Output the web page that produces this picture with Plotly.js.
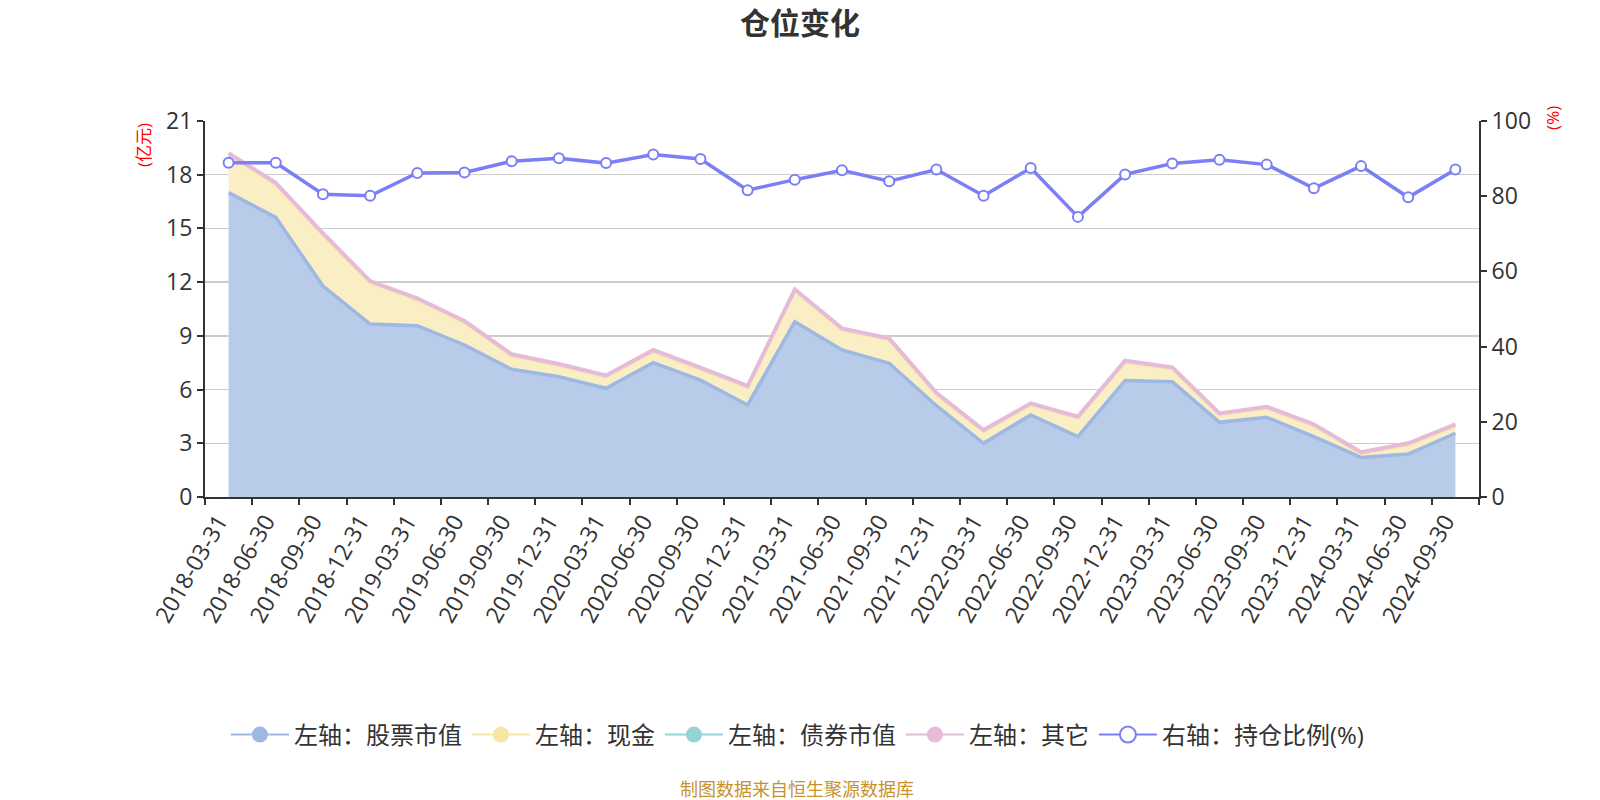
<!DOCTYPE html>
<html>
<head>
<meta charset="utf-8">
<script src="https://cdn.plot.ly/plotly-3.0.1.min.js"></script>
<style>
  html, body { margin: 0; padding: 0; background: #ffffff; }
  #chart { width: 1600px; height: 800px; }
</style>
</head>
<body>
<div id="chart"></div>
<script>
// -- Data (亿元 on the left axis, % on the right axis) ------------------------
var dates = [
  '2018-03-31', '2018-06-30', '2018-09-30', '2018-12-31',
  '2019-03-31', '2019-06-30', '2019-09-30', '2019-12-31',
  '2020-03-31', '2020-06-30', '2020-09-30', '2020-12-31',
  '2021-03-31', '2021-06-30', '2021-09-30', '2021-12-31',
  '2022-03-31', '2022-06-30', '2022-09-30', '2022-12-31',
  '2023-03-31', '2023-06-30', '2023-09-30', '2023-12-31',
  '2024-03-31', '2024-06-30', '2024-09-30'
];

var stockValue = [
  17.00, 15.62, 11.78, 9.66, 9.57, 8.49, 7.13, 6.72, 6.07,
  7.50, 6.53, 5.14, 9.79, 8.21, 7.47, 5.10, 3.00, 4.58,
  3.37, 6.50, 6.44, 4.17, 4.45, 3.37, 2.21, 2.40, 3.56
];

var cash = [
  2.10, 1.83, 2.85, 2.30, 1.43, 1.24, 0.74, 0.61, 0.62,
  0.61, 0.59, 0.96, 1.71, 1.11, 1.29, 0.62, 0.64, 0.55,
  1.02, 1.01, 0.70, 0.40, 0.49, 0.59, 0.19, 0.50, 0.40
];

var bondValue = [
  0, 0, 0, 0, 0, 0, 0, 0, 0,
  0, 0, 0, 0, 0, 0, 0, 0, 0,
  0, 0, 0, 0, 0, 0, 0, 0, 0
];

var other = [
  0.10, 0.10, 0.10, 0.10, 0.10, 0.10, 0.10, 0.10, 0.10,
  0.10, 0.10, 0.10, 0.10, 0.10, 0.10, 0.10, 0.10, 0.10,
  0.10, 0.10, 0.10, 0.10, 0.10, 0.10, 0.10, 0.10, 0.10
];

var positionRatio = [
  88.9, 88.9, 80.5, 80.1, 86.2, 86.3, 89.3, 90.1, 88.8,
  91.1, 89.9, 81.6, 84.4, 86.9, 84.0, 87.1, 80.1, 87.5,
  74.5, 85.8, 88.7, 89.7, 88.4, 82.1, 88.0, 79.7, 87.1
];

var seriesNames = ['左轴：股票市值', '左轴：现金', '左轴：债券市值', '左轴：其它', '右轴：持仓比例(%)'];

// -- Theme ------------------------------------------------------------------
var FONT = '"Open Sans", "Noto Sans CJK SC", sans-serif';
var TEXT_COLOR = '#333333';
var GRID_COLOR = '#cccccc';
var AXIS_COLOR = '#333333';
var TICK_SIZE = 23;

var STOCK_LINE = '#9db8e2', STOCK_FILL = '#b8cce9';
var CASH_LINE  = '#f6e8aa', CASH_FILL  = '#faefc4';
var BOND_LINE  = '#96d3d5', BOND_FILL  = '#c4e6e8';
var OTHER_LINE = '#e6bad9', OTHER_FILL = '#f0d6e8';
var RATIO_LINE = '#7b7ff5';

// stacked area series on the left axis; legend handled by dummy traces below
function areaTrace(y, lineColor, fillColor, width) {
  return {
    type: 'scatter',
    mode: 'lines',
    x: dates,
    y: y,
    stackgroup: 'left',
    line: { color: lineColor, width: width },
    fillcolor: fillColor,
    showlegend: false,
    hoverinfo: 'skip'
  };
}

// legend-only entries so the key looks like "line with big dot"
function legendTrace(name, color, hollow) {
  return {
    type: 'scatter',
    mode: 'lines+markers',
    x: [dates[0]],
    y: [null],
    name: name,
    line: { color: color, width: 2 },
    marker: {
      symbol: 'circle',
      size: 18,
      color: hollow ? '#ffffff' : color,
      line: { color: color, width: hollow ? 2 : 0 }
    },
    showlegend: true
  };
}

var traces = [
  areaTrace(stockValue, STOCK_LINE, STOCK_FILL, 3.5),
  areaTrace(cash, CASH_LINE, CASH_FILL, 3),
  // bond holdings are nil: no visible edge in the original
  areaTrace(bondValue, BOND_LINE, BOND_FILL, 0),
  areaTrace(other, OTHER_LINE, OTHER_FILL, 4),
  {
    type: 'scatter',
    mode: 'lines+markers',
    x: dates,
    y: positionRatio,
    yaxis: 'y2',
    line: { color: RATIO_LINE, width: 3.5 },
    marker: { symbol: 'circle', size: 10, color: '#ffffff', line: { color: RATIO_LINE, width: 2 } },
    showlegend: false,
    hoverinfo: 'skip'
  },
  legendTrace(seriesNames[0], STOCK_LINE, false),
  legendTrace(seriesNames[1], '#f7e6a2', false),
  legendTrace(seriesNames[2], BOND_LINE, false),
  legendTrace(seriesNames[3], OTHER_LINE, false),
  legendTrace(seriesNames[4], RATIO_LINE, true)
];

var layout = {
  width: 1600,
  height: 800,
  paper_bgcolor: '#ffffff',
  plot_bgcolor: '#ffffff',
  margin: { l: 205, r: 121, t: 121, b: 303 },
  font: { family: FONT, color: TEXT_COLOR, size: TICK_SIZE },
  title: {
    text: '<b>仓位变化</b>',
    font: { family: FONT, size: 30, color: TEXT_COLOR },
    x: 0.5, xanchor: 'center',
    y: 0.971, yanchor: 'middle', yref: 'container'
  },
  xaxis: {
    type: 'category',
    range: [-0.5, dates.length - 0.5],
    autorange: false,
    tickson: 'boundaries',
    ticks: 'outside',
    ticklen: 6,
    tickwidth: 2,
    tickcolor: AXIS_COLOR,
    tickangle: -60,
    ticklabelshift: -10,
    showline: true,
    linecolor: AXIS_COLOR,
    linewidth: 2,
    showgrid: false,
    zeroline: false,
    tickfont: { family: FONT, size: TICK_SIZE, color: TEXT_COLOR }
  },
  yaxis: {
    range: [0, 21],
    dtick: 3,
    tick0: 0,
    ticks: 'outside',
    ticklen: 6,
    tickwidth: 2,
    tickcolor: AXIS_COLOR,
    showline: true,
    linecolor: AXIS_COLOR,
    linewidth: 2,
    gridcolor: GRID_COLOR,
    gridwidth: 1.5,
    zeroline: false,
    tickfont: { family: FONT, size: TICK_SIZE, color: TEXT_COLOR }
  },
  yaxis2: {
    overlaying: 'y',
    side: 'right',
    range: [0, 100],
    dtick: 20,
    tick0: 0,
    ticks: 'outside',
    ticklen: 6,
    tickwidth: 2,
    tickcolor: AXIS_COLOR,
    showline: true,
    linecolor: AXIS_COLOR,
    linewidth: 2,
    showgrid: false,
    zeroline: false,
    tickfont: { family: FONT, size: TICK_SIZE, color: TEXT_COLOR }
  },
  showlegend: true,
  legend: {
    orientation: 'h',
    traceorder: 'normal',
    x: 0.465, xanchor: 'center',
    y: -0.633, yanchor: 'middle',
    font: { family: FONT, size: 24, color: TEXT_COLOR },
    itemsizing: 'trace',
    itemwidth: 58
  },
  annotations: [
    {
      text: '(亿元)',
      xref: 'paper', yref: 'paper',
      x: -0.0487, y: 0.936,
      xanchor: 'center', yanchor: 'middle',
      textangle: -90,
      showarrow: false,
      font: { family: FONT, size: 17, color: '#ff0000' }
    },
    {
      text: '(%)',
      xref: 'paper', yref: 'paper',
      x: 1.058, y: 1.008,
      xanchor: 'center', yanchor: 'middle',
      textangle: -90,
      showarrow: false,
      font: { family: FONT, size: 17, color: '#ff0000' }
    },
    {
      text: '制图数据来自恒生聚源数据库',
      xref: 'paper', yref: 'paper',
      x: 0.465, y: -0.777,
      xanchor: 'center', yanchor: 'middle',
      showarrow: false,
      font: { family: FONT, size: 18, color: '#c8922a' }
    }
  ]
};

Plotly.newPlot('chart', traces, layout, { displayModeBar: false, staticPlot: true });
</script>
</body>
</html>
